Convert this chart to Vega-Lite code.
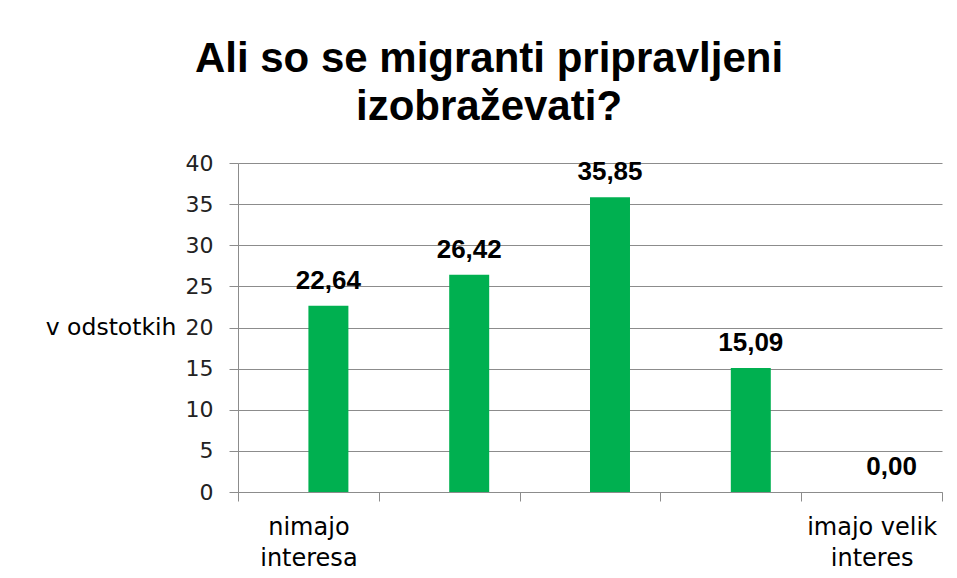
{
  "$schema": "https://vega.github.io/schema/vega-lite/v6.json",
  "autosize": "none",
  "width": 704,
  "height": 329,
  "padding": {"left": 238, "top": 163, "right": 15, "bottom": 86},
  "background": "white",
  "config": {
    "view": {"stroke": null},
    "locale": {"number": {"decimal": ",", "thousands": ".", "grouping": [3], "currency": ["", " €"]}}
  },
  "title": {
    "text": ["Ali so se migranti pripravljeni", "izobraževati?"],
    "font": "Liberation Sans",
    "fontSize": 42,
    "fontWeight": "bold",
    "color": "#000000",
    "anchor": "middle",
    "frame": "group",
    "dx": -101,
    "baseline": "alphabetic",
    "lineHeight": 48,
    "offset": -10
  },
  "data": {
    "values": [
      {"odgovor": "nimajo interesa", "odstotek": 22.64},
      {"odgovor": "2", "odstotek": 26.42},
      {"odgovor": "3", "odstotek": 35.85},
      {"odgovor": "4", "odstotek": 15.09},
      {"odgovor": "imajo velik interes", "odstotek": 0.0}
    ]
  },
  "encoding": {
    "x": {
      "field": "odgovor",
      "type": "nominal",
      "sort": null,
      "scale": {"paddingInner": 0, "paddingOuter": 0},
      "axis": {
        "title": null,
        "tickBand": "extent",
        "labelExpr": "datum.value == 'nimajo interesa' ? ['nimajo', 'interesa'] : datum.value == 'imajo velik interes' ? ['imajo velik', 'interes'] : ''",
        "labelAngle": 0,
        "labelFont": "DejaVu Sans",
        "labelFontSize": 24,
        "labelColor": "#000000",
        "labelLineHeight": 31,
        "labelPadding": 14,
        "labelBaseline": "top",
        "tickSize": 9,
        "tickColor": "#8c8c8c",
        "domainColor": "#8c8c8c",
        "grid": false
      }
    },
    "y": {
      "field": "odstotek",
      "type": "quantitative",
      "scale": {"domain": [0, 40], "nice": false},
      "axis": {
        "values": [0, 5, 10, 15, 20, 25, 30, 35, 40],
        "title": "v odstotkih",
        "titleAngle": 0,
        "titleAlign": "right",
        "titleBaseline": "middle",
        "titleX": -62,
        "titleY": 164.5,
        "titleFont": "DejaVu Sans",
        "titleFontSize": 23.5,
        "titleFontWeight": "normal",
        "titleColor": "#000000",
        "labelFont": "DejaVu Sans",
        "labelFontSize": 22,
        "labelColor": "#222222",
        "labelPadding": 16,
        "tickSize": 9,
        "tickColor": "#8c8c8c",
        "domainColor": "#8c8c8c",
        "gridColor": "#8c8c8c",
        "gridWidth": 1
      }
    }
  },
  "layer": [
    {
      "mark": {"type": "bar", "width": {"band": 0.284}, "xOffset": 20, "color": "#00B050"}
    },
    {
      "mark": {
        "type": "text",
        "xOffset": 20,
        "dy": -17,
        "baseline": "alphabetic",
        "font": "Liberation Sans",
        "fontSize": 26,
        "fontWeight": "bold",
        "color": "#000000"
      },
      "encoding": {
        "text": {"field": "odstotek", "type": "quantitative", "format": ".2f"}
      }
    }
  ]
}
